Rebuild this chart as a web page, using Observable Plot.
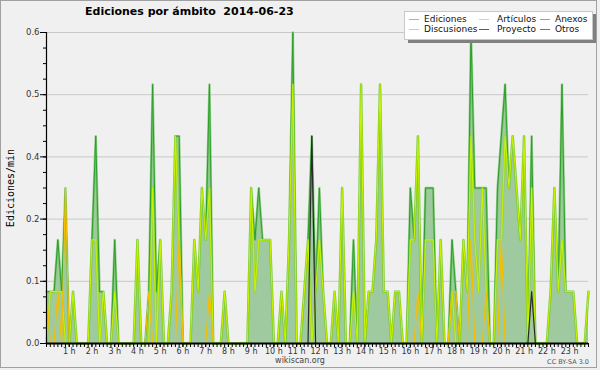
<!DOCTYPE html>
<html><head><meta charset="utf-8">
<script src="https://cdn.jsdelivr.net/npm/d3@7"></script>
<script src="https://cdn.jsdelivr.net/npm/@observablehq/plot@0.6"></script>
<style>
html,body{margin:0;padding:0;background:#f0f0f0;}
#wrap{position:relative;width:600px;height:370px;overflow:hidden;background:#f0f0f0;font-family:"DejaVu Sans",sans-serif;}
#wrap svg.plot{position:absolute;left:0;top:0;}
.title{position:absolute;left:85px;top:5px;font:bold 11px "DejaVu Sans",sans-serif;color:#000;white-space:pre;}
.ytitle{position:absolute;left:10px;top:188px;transform:translate(-50%,-50%) rotate(-90deg);font:10px "DejaVu Sans Mono",monospace;color:#000;white-space:nowrap;}
.legend{position:absolute;left:404px;top:11px;width:187px;height:27px;background:#fff;border:1px solid #c8c8c8;box-shadow:4px 3px 0 #808080;}
.li{position:absolute;font:9px "DejaVu Sans",sans-serif;color:#111;white-space:nowrap;line-height:10px;}
.sw{position:absolute;height:1px;width:10px;}
.foot1{position:absolute;left:300px;top:356px;transform:translateX(-50%);font:8px "DejaVu Sans",sans-serif;color:#444;}
.foot2{position:absolute;right:11px;top:358px;font:6.5px "DejaVu Sans",sans-serif;color:#555;}
.border{position:absolute;left:0;top:0;width:597px;height:368px;border:1px solid #a0a0a0;box-sizing:border-box;pointer-events:none;}
</style></head><body><div id="wrap"></div>
<script>
// values per 10-minute slot, 00:00 .. 23:50 (edits/min)
const ediciones = [
 0.1,0.1,0.1,0.2,0.1,0.3, 0,0.1,0,0,0,0, 0.2,0.4,0.1,0.1,0,0, 0.2,0,0,0,0,0,
 0.2,0,0,0.1,0.5,0.1, 0.2,0,0,0.1,0.4,0.4, 0,0,0,0.2,0.1,0.3, 0.2,0.5,0,0,0,0.1,
 0,0,0,0,0,0, 0.3,0.2,0.3,0.2,0.2,0.2, 0,0,0.1,0,0.2,0.6, 0,0,0.1,0.2,0.4,0.1,
 0.3,0.1,0,0,0.1,0, 0.3,0,0,0.2,0,0.5, 0,0.1,0.1,0.2,0.5,0.1, 0.1,0,0.1,0.1,0,0,
 0.3,0.2,0.4,0,0.3,0.3, 0.3,0,0.2,0,0,0.2, 0.1,0,0.2,0.1,0.6,0.3, 0.3,0.3,0.3,0,0,0.3,
 0.4,0.5,0.3,0.4,0.3,0.2, 0.4,0,0.4,0,0,0, 0,0.1,0.3,0.1,0.5,0.1, 0.1,0.1,0,0,0,0.1
];
const articulos = [
 0,0.1,0.1,0.1,0.1,0, 0,0.1,0,0,0,0, 0.2,0.2,0,0.1,0,0, 0.1,0,0,0,0,0,
 0.2,0,0,0,0.3,0, 0.2,0,0,0.1,0.4,0.2, 0,0,0,0.2,0.1,0.3, 0.2,0.3,0,0,0,0.1,
 0,0,0,0,0,0, 0.3,0.1,0.2,0.2,0.2,0.2, 0,0,0.1,0,0.2,0.5, 0,0,0.1,0.2,0,0.1,
 0.2,0.1,0,0,0.1,0, 0.3,0,0,0.1,0,0.5, 0,0.1,0.1,0.2,0.5,0.1, 0.1,0,0.1,0.1,0,0,
 0.2,0.2,0.4,0,0.2,0.2, 0.2,0,0.2,0,0,0.1, 0,0,0.2,0.1,0.4,0.2, 0.1,0.3,0.1,0,0,0.2,
 0.2,0.4,0.3,0.4,0.3,0.2, 0.4,0,0.3,0,0,0, 0,0.1,0.3,0.1,0.2,0.1, 0.1,0.1,0,0,0,0.1
];
const discusiones = [
 0.1,0,0,0.1,0,0.3, 0,0,0,0,0,0, 0,0,0,0,0,0, 0,0,0,0,0,0,
 0,0,0,0.1,0,0, 0,0,0,0,0,0.2, 0,0,0,0,0,0, 0,0.1,0,0,0,0,
 0,0,0,0,0,0, 0,0,0,0,0,0, 0,0,0,0,0,0, 0,0,0,0,0,0,
 0,0,0,0,0,0, 0,0,0,0,0,0, 0,0,0,0,0,0, 0,0,0,0,0,0,
 0,0,0.1,0,0,0, 0,0,0,0,0,0.1, 0.1,0,0,0,0.2,0, 0,0,0.1,0,0,0,
 0.2,0,0,0,0,0, 0,0,0,0,0,0, 0,0,0,0,0,0, 0,0,0,0,0,0
];
const proyecto = [
 0,0,0,0,0,0, 0,0,0,0,0,0, 0,0,0,0,0,0, 0,0,0,0,0,0,
 0,0,0,0,0,0, 0,0,0,0,0,0, 0,0,0,0,0,0, 0,0,0,0,0,0,
 0,0,0,0,0,0, 0,0,0,0,0,0, 0,0,0,0,0,0, 0,0,0,0,0.4,0,
 0,0,0,0,0,0, 0,0,0,0,0,0, 0,0,0,0,0,0, 0,0,0,0,0,0,
 0,0,0,0,0,0, 0,0,0,0,0,0, 0,0,0,0,0,0, 0,0,0,0,0,0,
 0,0,0,0,0,0, 0,0,0.1,0,0,0, 0,0,0,0,0,0, 0,0,0,0,0,0
];
const hourTicks = [1,2,3,4,5,6,7,8,9,10,11,12,13,14,15,16,17,18,19,20,21,22,23];
const hourLabels = ["1 h","2 h","3 h","4 h","5 h","6 h","7 h","8 h","9 h","10 h","11 h","12 h","13 h","14 h","15 h","16 h","17 h","18 h","19 h","20 h","21 h","22 h","23 h"];
const yTicks = [0, 0.12, 0.24, 0.36, 0.48, 0.6];
const legendNames = ["Ediciones","Artículos","Anexos","Discusiones","Proyecto","Otros"];
const legendColors = ["#86cf86","#c6ee4a","#ef8650","#f3cf3e","#5a5a5a","#9a48ee"];

const rows = ediciones.map((v, i) => ({t: i / 6, ed: v, ar: articulos[i], di: discusiones[i], pr: proyecto[i]}));
const xMinor = d3.range(0, 144).map(i => i / 6);
const yMinor = d3.range(0, 21).map(k => k * 0.03);
const xEnd = 143 / 6;

const chart = Plot.plot({
  width: 600, height: 370,
  marginLeft: 46, marginRight: 12, marginTop: 32, marginBottom: 27,
  style: {background: "transparent", fontFamily: "DejaVu Sans, sans-serif", fontSize: "8px", color: "#000"},
  x: {domain: [0, xEnd], axis: null},
  y: {domain: [0, 0.6], axis: null},
  marks: [
    Plot.gridY(yTicks.slice(1), {stroke: "#c9c9c9", strokeOpacity: 1}),
    Plot.areaY(rows, {x: "t", y: "ed", fill: "#9fca9f"}),
    Plot.lineY(rows, {x: "t", y: "ed", stroke: "#5cbc4c", strokeWidth: 2.4, strokeOpacity: 0.6}),
    Plot.lineY(rows, {x: "t", y: "ed", stroke: "#2c9e2c", strokeWidth: 1}),
    Plot.lineY(rows, {x: "t", y: "ar", stroke: "#86d410", strokeWidth: 2.4, strokeOpacity: 0.55}),
    Plot.lineY(rows, {x: "t", y: "ar", stroke: "#c8f200", strokeWidth: 1.1}),
    Plot.lineY(rows, {x: "t", y: "di", stroke: "#f2c000", strokeWidth: 1.2}),
    Plot.lineY(rows, {x: "t", y: "pr", stroke: "#2a2a2a", strokeWidth: 1.2}),
    Plot.axisY({ticks: yMinor, tickSize: 3, tickFormat: () => "", label: null, stroke: "#000"}),
    Plot.axisY({ticks: yTicks, tickSize: 6, tickPadding: 1, tickFormat: d => d.toFixed(1), label: null, fontSize: 8.5, fill: "#333", stroke: "#000"}),
    Plot.axisX({ticks: xMinor, tickSize: 4, tickFormat: () => "", label: null, stroke: "#000"}),
    Plot.axisX({ticks: hourTicks, tickSize: 4, tickPadding: 1, tickFormat: h => hourLabels[hourTicks.indexOf(h)], label: null, fontSize: 8, fill: "#333", stroke: "#000"}),
    Plot.ruleX([0], {stroke: "#000", strokeWidth: 1.2}),
    Plot.ruleY([0], {stroke: "#000", strokeWidth: 2})
  ]
});
chart.classList.add("plot");
const wrap = document.getElementById("wrap");
wrap.appendChild(chart);

function add(cls, text, style) {
  const d = document.createElement("div");
  d.className = cls;
  if (text != null) d.textContent = text;
  if (style) Object.assign(d.style, style);
  wrap.appendChild(d);
  return d;
}
add("title", "Ediciones por ámbito  2014-06-23");
add("ytitle", "Ediciones/min");
const leg = add("legend");
const colX = [[4, 19], [74, 92], [135, 150]];
legendNames.forEach((name, k) => {
  const col = k % 3, row = Math.floor(k / 3);
  const sw = document.createElement("div");
  sw.className = "sw";
  Object.assign(sw.style, {left: colX[col][0] + "px", top: (7 + row * 10) + "px", background: legendColors[k]});
  leg.appendChild(sw);
  const t = document.createElement("div");
  t.className = "li";
  t.textContent = name;
  Object.assign(t.style, {left: colX[col][1] + "px", top: (2 + row * 10) + "px"});
  leg.appendChild(t);
});
add("foot1", "wikiscan.org");
add("foot2", "CC BY-SA 3.0");
add("border");
</script>
</body></html>
